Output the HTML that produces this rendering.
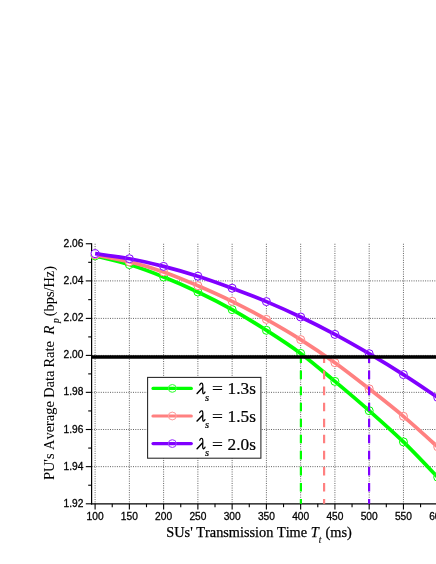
<!DOCTYPE html>
<html><head><meta charset="utf-8"><title>chart</title>
<style>
html,body{margin:0;padding:0;background:#fff;}
body{width:436px;height:564px;position:relative;overflow:hidden;font-family:"Liberation Sans",sans-serif;color:#000;}
.t{position:absolute;white-space:pre;line-height:1;}
.yt{font-size:10.2px;-webkit-text-stroke:0.28px #000;width:30px;text-align:right;left:53.3px;}
.xt{font-size:10.2px;-webkit-text-stroke:0.28px #000;width:40px;text-align:center;}
.ser{font-family:"Liberation Serif",serif;font-size:14.4px;font-kerning:none;-webkit-text-stroke:0.25px #000;}
.sub{font-family:"Liberation Serif",serif;font-size:9.5px;font-style:italic;-webkit-text-stroke:0.12px #000;}
#yl .ser{-webkit-text-stroke:0.05px #000;}
.leg{font-family:"Liberation Serif",serif;font-size:17.3px;-webkit-text-stroke:0.22px #000;}
.lsub{font-family:"Liberation Serif",serif;font-size:10.5px;font-style:italic;-webkit-text-stroke:0.2px #000;}
#yl{left:0;top:0;width:0;height:0;transform:translate(54.1px,480.1px) rotate(-90deg);transform-origin:0 0;}
#yl .t{top:auto;font-kerning:none;}
#txt{position:absolute;left:0;top:0;width:436px;height:564px;opacity:0.999;}
</style></head><body>
<svg width="436" height="564" viewBox="0 0 436 564" style="position:absolute;left:0;top:0">
<defs>
<mask id="mg" maskUnits="userSpaceOnUse" x="0" y="0" width="436" height="564"><path d="M95.10 255.90 C100.81 257.35 117.94 261.08 129.36 264.60 C140.78 268.12 152.20 272.43 163.62 277.00 C175.04 281.57 186.46 286.57 197.88 292.00 C209.30 297.43 220.72 303.22 232.14 309.60 C243.56 315.98 254.98 323.00 266.40 330.30 C277.82 337.60 289.24 344.88 300.66 353.40 C312.08 361.92 323.50 371.85 334.92 381.40 C346.34 390.95 357.76 400.62 369.18 410.70 C380.60 420.78 392.02 430.82 403.44 441.90 C414.86 452.98 431.99 471.32 437.70 477.20" fill="none" stroke="#fff" stroke-width="3.7"/></mask>
<mask id="mp" maskUnits="userSpaceOnUse" x="0" y="0" width="436" height="564"><path d="M95.10 254.90 C100.81 256.05 117.94 258.97 129.36 261.80 C140.78 264.63 152.20 267.92 163.62 271.90 C175.04 275.88 186.46 280.80 197.88 285.70 C209.30 290.60 220.72 295.68 232.14 301.30 C243.56 306.92 254.98 313.02 266.40 319.40 C277.82 325.78 289.24 332.38 300.66 339.60 C312.08 346.82 323.50 354.50 334.92 362.70 C346.34 370.90 357.76 379.87 369.18 388.80 C380.60 397.73 392.02 406.63 403.44 416.30 C414.86 425.97 431.99 441.72 437.70 446.80" fill="none" stroke="#fff" stroke-width="3.7"/></mask>
<mask id="mv" maskUnits="userSpaceOnUse" x="0" y="0" width="436" height="564"><path d="M95.10 253.70 C100.81 254.53 117.94 256.58 129.36 258.70 C140.78 260.82 152.20 263.48 163.62 266.40 C175.04 269.32 186.46 272.57 197.88 276.20 C209.30 279.83 220.72 283.97 232.14 288.20 C243.56 292.43 254.98 296.80 266.40 301.60 C277.82 306.40 289.24 311.53 300.66 317.00 C312.08 322.47 323.50 328.28 334.92 334.40 C346.34 340.52 357.76 347.00 369.18 353.70 C380.60 360.40 392.02 367.32 403.44 374.60 C414.86 381.88 431.99 393.60 437.70 397.40" fill="none" stroke="#fff" stroke-width="3.7"/></mask>
</defs>
<g stroke="#000" stroke-width="1" stroke-dasharray="1 1.3" opacity="0.62"><line x1="95.10" y1="243.75" x2="95.10" y2="503.80"/><line x1="129.36" y1="243.75" x2="129.36" y2="503.80"/><line x1="163.62" y1="243.75" x2="163.62" y2="503.80"/><line x1="197.88" y1="243.75" x2="197.88" y2="503.80"/><line x1="232.14" y1="243.75" x2="232.14" y2="503.80"/><line x1="266.40" y1="243.75" x2="266.40" y2="503.80"/><line x1="300.66" y1="243.75" x2="300.66" y2="503.80"/><line x1="334.92" y1="243.75" x2="334.92" y2="503.80"/><line x1="369.18" y1="243.75" x2="369.18" y2="503.80"/><line x1="403.44" y1="243.75" x2="403.44" y2="503.80"/><line x1="437.70" y1="243.75" x2="437.70" y2="503.80"/><line x1="91.60" y1="280.90" x2="436" y2="280.90"/><line x1="91.60" y1="318.40" x2="436" y2="318.40"/><line x1="91.60" y1="355.40" x2="436" y2="355.40"/><line x1="91.60" y1="392.35" x2="436" y2="392.35"/><line x1="91.60" y1="429.50" x2="436" y2="429.50"/><line x1="91.60" y1="466.65" x2="436" y2="466.65"/></g>
<g stroke="#000" stroke-width="1.2" fill="none">
<line x1="91.60" y1="243.15" x2="91.60" y2="504.40"/>
<line x1="91.00" y1="503.80" x2="436" y2="503.80"/>
</g>
<g stroke="#000" stroke-width="1.1"><line x1="85.80" y1="243.75" x2="91.60" y2="243.75"/><line x1="88.20" y1="262.32" x2="91.60" y2="262.32"/><line x1="85.80" y1="280.90" x2="91.60" y2="280.90"/><line x1="88.20" y1="299.65" x2="91.60" y2="299.65"/><line x1="85.80" y1="318.40" x2="91.60" y2="318.40"/><line x1="88.20" y1="336.90" x2="91.60" y2="336.90"/><line x1="85.80" y1="355.40" x2="91.60" y2="355.40"/><line x1="88.20" y1="373.88" x2="91.60" y2="373.88"/><line x1="85.80" y1="392.35" x2="91.60" y2="392.35"/><line x1="88.20" y1="410.93" x2="91.60" y2="410.93"/><line x1="85.80" y1="429.50" x2="91.60" y2="429.50"/><line x1="88.20" y1="448.07" x2="91.60" y2="448.07"/><line x1="85.80" y1="466.65" x2="91.60" y2="466.65"/><line x1="88.20" y1="485.23" x2="91.60" y2="485.23"/><line x1="85.80" y1="503.80" x2="91.60" y2="503.80"/><line x1="95.10" y1="503.80" x2="95.10" y2="509.60"/><line x1="112.23" y1="503.80" x2="112.23" y2="507.20"/><line x1="129.36" y1="503.80" x2="129.36" y2="509.60"/><line x1="146.49" y1="503.80" x2="146.49" y2="507.20"/><line x1="163.62" y1="503.80" x2="163.62" y2="509.60"/><line x1="180.75" y1="503.80" x2="180.75" y2="507.20"/><line x1="197.88" y1="503.80" x2="197.88" y2="509.60"/><line x1="215.01" y1="503.80" x2="215.01" y2="507.20"/><line x1="232.14" y1="503.80" x2="232.14" y2="509.60"/><line x1="249.27" y1="503.80" x2="249.27" y2="507.20"/><line x1="266.40" y1="503.80" x2="266.40" y2="509.60"/><line x1="283.53" y1="503.80" x2="283.53" y2="507.20"/><line x1="300.66" y1="503.80" x2="300.66" y2="509.60"/><line x1="317.79" y1="503.80" x2="317.79" y2="507.20"/><line x1="334.92" y1="503.80" x2="334.92" y2="509.60"/><line x1="352.05" y1="503.80" x2="352.05" y2="507.20"/><line x1="369.18" y1="503.80" x2="369.18" y2="509.60"/><line x1="386.31" y1="503.80" x2="386.31" y2="507.20"/><line x1="403.44" y1="503.80" x2="403.44" y2="509.60"/><line x1="420.57" y1="503.80" x2="420.57" y2="507.20"/><line x1="437.70" y1="503.80" x2="437.70" y2="509.60"/></g>
<g fill="#fff" stroke="#00ff00" stroke-width="1"><circle cx="95.10" cy="255.90" r="4.0"/><circle cx="129.36" cy="264.60" r="4.0"/><circle cx="163.62" cy="277.00" r="4.0"/><circle cx="197.88" cy="292.00" r="4.0"/><circle cx="232.14" cy="309.60" r="4.0"/><circle cx="266.40" cy="330.30" r="4.0"/><circle cx="300.66" cy="353.40" r="4.0"/><circle cx="334.92" cy="381.40" r="4.0"/><circle cx="369.18" cy="410.70" r="4.0"/><circle cx="403.44" cy="441.90" r="4.0"/><circle cx="437.70" cy="477.20" r="4.0"/></g>
<path d="M95.10 255.90 C100.81 257.35 117.94 261.08 129.36 264.60 C140.78 268.12 152.20 272.43 163.62 277.00 C175.04 281.57 186.46 286.57 197.88 292.00 C209.30 297.43 220.72 303.22 232.14 309.60 C243.56 315.98 254.98 323.00 266.40 330.30 C277.82 337.60 289.24 344.88 300.66 353.40 C312.08 361.92 323.50 371.85 334.92 381.40 C346.34 390.95 357.76 400.62 369.18 410.70 C380.60 420.78 392.02 430.82 403.44 441.90 C414.86 452.98 431.99 471.32 437.70 477.20" fill="none" stroke="#00ff00" stroke-width="3.7"/>
<g fill="none" stroke="#fff" stroke-opacity="0.12" stroke-width="1" mask="url(#mg)"><circle cx="95.10" cy="255.90" r="4.0"/><circle cx="129.36" cy="264.60" r="4.0"/><circle cx="163.62" cy="277.00" r="4.0"/><circle cx="197.88" cy="292.00" r="4.0"/><circle cx="232.14" cy="309.60" r="4.0"/><circle cx="266.40" cy="330.30" r="4.0"/><circle cx="300.66" cy="353.40" r="4.0"/><circle cx="334.92" cy="381.40" r="4.0"/><circle cx="369.18" cy="410.70" r="4.0"/><circle cx="403.44" cy="441.90" r="4.0"/><circle cx="437.70" cy="477.20" r="4.0"/></g>
<g fill="#fff" stroke="#ff8080" stroke-width="1"><circle cx="95.10" cy="254.90" r="4.0"/><circle cx="129.36" cy="261.80" r="4.0"/><circle cx="163.62" cy="271.90" r="4.0"/><circle cx="197.88" cy="285.70" r="4.0"/><circle cx="232.14" cy="301.30" r="4.0"/><circle cx="266.40" cy="319.40" r="4.0"/><circle cx="300.66" cy="339.60" r="4.0"/><circle cx="334.92" cy="362.70" r="4.0"/><circle cx="369.18" cy="388.80" r="4.0"/><circle cx="403.44" cy="416.30" r="4.0"/><circle cx="437.70" cy="446.80" r="4.0"/></g>
<path d="M95.10 254.90 C100.81 256.05 117.94 258.97 129.36 261.80 C140.78 264.63 152.20 267.92 163.62 271.90 C175.04 275.88 186.46 280.80 197.88 285.70 C209.30 290.60 220.72 295.68 232.14 301.30 C243.56 306.92 254.98 313.02 266.40 319.40 C277.82 325.78 289.24 332.38 300.66 339.60 C312.08 346.82 323.50 354.50 334.92 362.70 C346.34 370.90 357.76 379.87 369.18 388.80 C380.60 397.73 392.02 406.63 403.44 416.30 C414.86 425.97 431.99 441.72 437.70 446.80" fill="none" stroke="#ff8080" stroke-width="3.7"/>
<g fill="none" stroke="#fff" stroke-opacity="0.12" stroke-width="1" mask="url(#mp)"><circle cx="95.10" cy="254.90" r="4.0"/><circle cx="129.36" cy="261.80" r="4.0"/><circle cx="163.62" cy="271.90" r="4.0"/><circle cx="197.88" cy="285.70" r="4.0"/><circle cx="232.14" cy="301.30" r="4.0"/><circle cx="266.40" cy="319.40" r="4.0"/><circle cx="300.66" cy="339.60" r="4.0"/><circle cx="334.92" cy="362.70" r="4.0"/><circle cx="369.18" cy="388.80" r="4.0"/><circle cx="403.44" cy="416.30" r="4.0"/><circle cx="437.70" cy="446.80" r="4.0"/></g>
<g fill="#fff" stroke="#8000ff" stroke-width="1"><circle cx="95.10" cy="253.70" r="4.0"/><circle cx="129.36" cy="258.70" r="4.0"/><circle cx="163.62" cy="266.40" r="4.0"/><circle cx="197.88" cy="276.20" r="4.0"/><circle cx="232.14" cy="288.20" r="4.0"/><circle cx="266.40" cy="301.60" r="4.0"/><circle cx="300.66" cy="317.00" r="4.0"/><circle cx="334.92" cy="334.40" r="4.0"/><circle cx="369.18" cy="353.70" r="4.0"/><circle cx="403.44" cy="374.60" r="4.0"/><circle cx="437.70" cy="397.40" r="4.0"/></g>
<path d="M95.10 253.70 C100.81 254.53 117.94 256.58 129.36 258.70 C140.78 260.82 152.20 263.48 163.62 266.40 C175.04 269.32 186.46 272.57 197.88 276.20 C209.30 279.83 220.72 283.97 232.14 288.20 C243.56 292.43 254.98 296.80 266.40 301.60 C277.82 306.40 289.24 311.53 300.66 317.00 C312.08 322.47 323.50 328.28 334.92 334.40 C346.34 340.52 357.76 347.00 369.18 353.70 C380.60 360.40 392.02 367.32 403.44 374.60 C414.86 381.88 431.99 393.60 437.70 397.40" fill="none" stroke="#8000ff" stroke-width="3.7"/>
<g fill="none" stroke="#fff" stroke-opacity="0.12" stroke-width="1" mask="url(#mv)"><circle cx="95.10" cy="253.70" r="4.0"/><circle cx="129.36" cy="258.70" r="4.0"/><circle cx="163.62" cy="266.40" r="4.0"/><circle cx="197.88" cy="276.20" r="4.0"/><circle cx="232.14" cy="288.20" r="4.0"/><circle cx="266.40" cy="301.60" r="4.0"/><circle cx="300.66" cy="317.00" r="4.0"/><circle cx="334.92" cy="334.40" r="4.0"/><circle cx="369.18" cy="353.70" r="4.0"/><circle cx="403.44" cy="374.60" r="4.0"/><circle cx="437.70" cy="397.40" r="4.0"/></g>
<line x1="300.90" y1="354.5" x2="300.90" y2="503.80" stroke="#00ff00" stroke-width="2.2" stroke-dasharray="8.6 7.45"/>
<line x1="324.10" y1="354.5" x2="324.10" y2="503.80" stroke="#ff8080" stroke-width="2.2" stroke-dasharray="8.6 7.45"/>
<line x1="369.10" y1="354.5" x2="369.10" y2="503.80" stroke="#8000ff" stroke-width="2.2" stroke-dasharray="8.6 7.45"/>
<line x1="91.60" y1="356.95" x2="436" y2="356.95" stroke="#000" stroke-width="3.4"/>
<rect x="147.6" y="377.4" width="113.3" height="80.8" fill="#fff" stroke="#222" stroke-width="1.05"/>
<circle cx="172.3" cy="388.40" r="3.9" fill="none" stroke="#00ff00" stroke-width="1"/>
<line x1="153" y1="388.40" x2="191.3" y2="388.40" stroke="#00ff00" stroke-width="3.2" stroke-linecap="round"/>
<circle cx="172.3" cy="388.40" r="3.9" fill="none" stroke="#fff" stroke-opacity="0.25" stroke-width="1"/>
<g transform="translate(0 0.00)" fill="none" stroke="#000" stroke-linecap="round" stroke-linejoin="round"><path d="M199.7 385.0 C200.3 383.6 201.3 383.0 202.1 383.3 C202.9 383.6 202.9 385.5 202.8 387.5 L202.7 391.5 C202.7 393.3 203.2 393.8 203.9 393.4 C204.5 393.0 204.8 392.5 205.0 392.0" stroke-width="1.25"/><path d="M202.4 387.8 L197.1 393.5" stroke-width="1.45"/></g>
<circle cx="172.3" cy="416.00" r="3.9" fill="none" stroke="#ff8080" stroke-width="1"/>
<line x1="153" y1="416.00" x2="191.3" y2="416.00" stroke="#ff8080" stroke-width="3.2" stroke-linecap="round"/>
<circle cx="172.3" cy="416.00" r="3.9" fill="none" stroke="#fff" stroke-opacity="0.25" stroke-width="1"/>
<g transform="translate(0 27.60)" fill="none" stroke="#000" stroke-linecap="round" stroke-linejoin="round"><path d="M199.7 385.0 C200.3 383.6 201.3 383.0 202.1 383.3 C202.9 383.6 202.9 385.5 202.8 387.5 L202.7 391.5 C202.7 393.3 203.2 393.8 203.9 393.4 C204.5 393.0 204.8 392.5 205.0 392.0" stroke-width="1.25"/><path d="M202.4 387.8 L197.1 393.5" stroke-width="1.45"/></g>
<circle cx="172.3" cy="443.60" r="3.9" fill="none" stroke="#8000ff" stroke-width="1"/>
<line x1="153" y1="443.60" x2="191.3" y2="443.60" stroke="#8000ff" stroke-width="3.2" stroke-linecap="round"/>
<circle cx="172.3" cy="443.60" r="3.9" fill="none" stroke="#fff" stroke-opacity="0.25" stroke-width="1"/>
<g transform="translate(0 55.20)" fill="none" stroke="#000" stroke-linecap="round" stroke-linejoin="round"><path d="M199.7 385.0 C200.3 383.6 201.3 383.0 202.1 383.3 C202.9 383.6 202.9 385.5 202.8 387.5 L202.7 391.5 C202.7 393.3 203.2 393.8 203.9 393.4 C204.5 393.0 204.8 392.5 205.0 392.0" stroke-width="1.25"/><path d="M202.4 387.8 L197.1 393.5" stroke-width="1.45"/></g>
</svg>
<div id="txt">
<div class="t yt" style="top:238.75px">2.06</div>
<div class="t yt" style="top:275.90px">2.04</div>
<div class="t yt" style="top:313.40px">2.02</div>
<div class="t yt" style="top:350.40px">2.00</div>
<div class="t yt" style="top:387.35px">1.98</div>
<div class="t yt" style="top:424.50px">1.96</div>
<div class="t yt" style="top:461.65px">1.94</div>
<div class="t yt" style="top:498.80px">1.92</div>
<div class="t xt" style="left:75.10px;top:511.5px">100</div>
<div class="t xt" style="left:109.36px;top:511.5px">150</div>
<div class="t xt" style="left:143.62px;top:511.5px">200</div>
<div class="t xt" style="left:177.88px;top:511.5px">250</div>
<div class="t xt" style="left:212.14px;top:511.5px">300</div>
<div class="t xt" style="left:246.40px;top:511.5px">350</div>
<div class="t xt" style="left:280.66px;top:511.5px">400</div>
<div class="t xt" style="left:314.92px;top:511.5px">450</div>
<div class="t xt" style="left:349.18px;top:511.5px">500</div>
<div class="t xt" style="left:383.44px;top:511.5px">550</div>
<div class="t xt" style="left:417.70px;top:511.5px">600</div>
<div class="t ser" style="left:166.3px;top:525.14px;font-size:14.3px">SUs' Transmission Time</div>
<div class="t ser" style="left:310.7px;top:525.14px"><i>T</i></div>
<div class="t sub" style="left:318.8px;top:535.64px">t</div>
<div class="t ser" style="left:321.8px;top:525.14px"> (ms)</div>
<div class="t" id="yl">
<div class="t ser" style="left:0px;top:-12.06px">PU's Average <span style="position:relative;left:-0.3px">Data </span><span style="position:relative;left:-0.8px">Rate</span></div>
<div class="t ser" style="left:145.50px;top:-12.06px"><i>R</i></div>
<div class="t sub" style="left:157.10px;top:-1.96px">p</div>
<div class="t ser" style="left:163.80px;top:-12.06px">(bps/Hz)</div>
</div>
<div class="t lsub" style="left:204.9px;top:392.51px">s</div>
<div class="t leg" style="left:212.4px;top:380.41px;transform:scaleX(1.12);transform-origin:0 0">=</div>
<div class="t leg" style="left:227.6px;top:380.41px">1.3s</div>
<div class="t lsub" style="left:204.9px;top:420.11px">s</div>
<div class="t leg" style="left:212.4px;top:408.01px;transform:scaleX(1.12);transform-origin:0 0">=</div>
<div class="t leg" style="left:227.6px;top:408.01px">1.5s</div>
<div class="t lsub" style="left:204.9px;top:447.71px">s</div>
<div class="t leg" style="left:212.4px;top:435.61px;transform:scaleX(1.12);transform-origin:0 0">=</div>
<div class="t leg" style="left:227.6px;top:435.61px">2.0s</div>
</div>
</body></html>
